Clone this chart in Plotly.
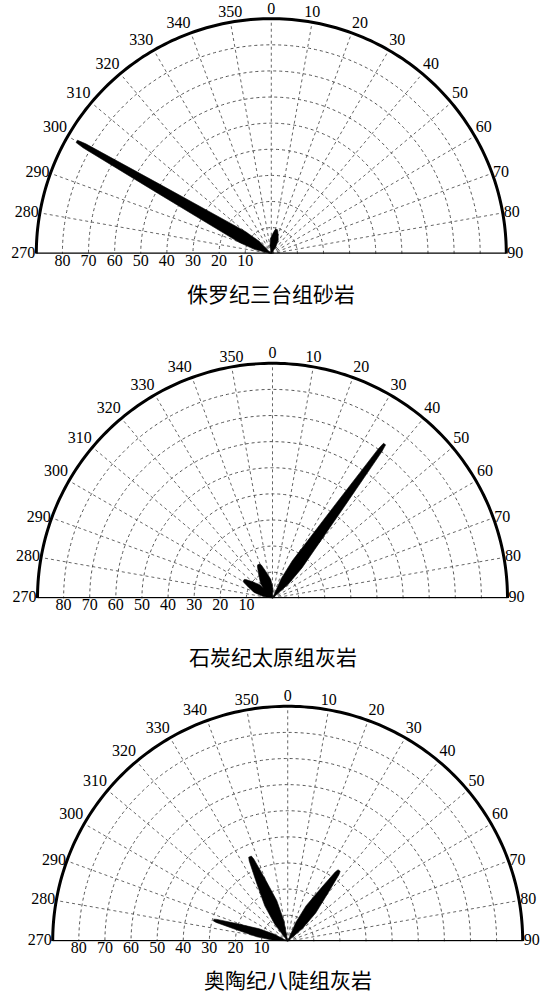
import numpy as np
import plotly.graph_objects as go

# ---------------- data ----------------
titles = ["侏罗纪三台组砂岩", "石炭纪太原组灰岩", "奥陶纪八陡组灰岩"]

# angular ticks (azimuth, degrees); left half expressed as negative angles
angle_ticks = [-90, -80, -70, -60, -50, -40, -30, -20, -10, 0, 10, 20, 30, 40, 50, 60, 70, 80, 90]
angle_labels = ["270", "280", "290", "300", "310", "320", "330", "340", "350",
                "0", "10", "20", "30", "40", "50", "60", "70", "80", "90"]
radial_ticks = [10, 20, 30, 40, 50, 60, 70, 80]
radial_labels = [str(v) for v in radial_ticks]
r_max = 90

# petals: direction (deg, clockwise from north), length (radial units)
dir_1 = [300, 12]
len_1 = [86, 9.5]
wid_1 = [4.8, 3.0]
peak_1 = [0.15, 0.6]

dir_2 = [36, 338, 302]
len_2 = [73, 14, 13]
wid_2 = [4.6, 4.2, 3.6]
peak_2 = [0.22, 0.5, 0.55]

dir_3 = [336, 36, 286]
len_3 = [35.5, 33.5, 29.5]
wid_3 = [5.0, 4.6, 3.2]
peak_3 = [0.45, 0.45, 0.4]

petal_sets = [(dir_1, len_1, wid_1, peak_1),
              (dir_2, len_2, wid_2, peak_2),
              (dir_3, len_3, wid_3, peak_3)]

# ---------------- layout geometry (pixels) ----------------
W, H = 542, 996
centers = [(271.3, 253.7), (272.5, 598.3), (287.7, 941.3)]
R_px = 235                 # pixel radius of the rim (r = r_max)
r_view = 96                # radial range kept a little wider so labels fit
R_view_px = R_px * r_view / r_max
title_y = [293, 656, 979]
NUM_FONT = dict(family="Liberation Serif", size=16, color="black")
GRID = dict(color="#555555", width=0.9, dash="dot")


def petal_polygon(d, L, w, pk):
    ts = np.array([0, pk * 0.5, pk, (pk + 1) / 2, 0.96, 1.0])
    hf = np.array([0, 0.75, 1.0, 0.7, 0.38, 0.22]) * w / 2
    a = ts * L
    r_left = np.sqrt(a ** 2 + hf ** 2)
    th_off = np.degrees(np.arctan2(hf, np.maximum(a, 1e-9)))
    r = np.concatenate([r_left, r_left[::-1]])
    th = np.concatenate([d - th_off, (d + th_off)[::-1]])
    return r, th


def label_pos(a):
    if abs(a) <= 10:
        return "top center"
    if a >= 70:
        return "middle right"
    if a <= -70:
        return "middle left"
    return "top right" if a > 0 else "top left"


fig = go.Figure()
layout_polars = {}
for i, (dirs, lens, wids, peaks) in enumerate(petal_sets):
    pname = "polar" if i == 0 else f"polar{i+1}"
    sub = pname
    cx, cy = centers[i]
    layout_polars[pname] = dict(
        domain=dict(x=[(cx - R_view_px) / W, (cx + R_view_px) / W],
                    y=[(H - cy) / H, (H - cy + R_view_px) / H]),
        sector=[0, 180],
        bgcolor="rgba(0,0,0,0)",
        angularaxis=dict(
            rotation=90, direction="clockwise",
            showticklabels=False, showline=False, showgrid=False, ticks="",
        ),
        radialaxis=dict(
            range=[0, r_view], angle=180,
            tickmode="array", tickvals=radial_ticks,
            showticklabels=False, showline=False, showgrid=True,
            gridcolor=GRID["color"], griddash=GRID["dash"],
            gridwidth=GRID["width"], ticks="",
        ),
    )
    # spokes every 10 degrees, from the centre to the rim
    sp_r, sp_t = [], []
    for a in angle_ticks[1:-1]:
        sp_r += [0, r_max, None]
        sp_t += [a, a, None]
    fig.add_trace(go.Scatterpolar(
        r=sp_r, theta=sp_t, mode="lines", line=GRID, connectgaps=False,
        subplot=sub, showlegend=False, hoverinfo="skip"))
    # petals
    for d, L, w, pk in zip(dirs, lens, wids, peaks):
        r, th = petal_polygon(d, L, w, pk)
        fig.add_trace(go.Scatterpolar(
            r=r, theta=th, mode="lines", fill="toself",
            fillcolor="black", line=dict(color="black", width=0.6),
            subplot=sub, showlegend=False, hoverinfo="skip"))
    # rim (outer semicircle) and diameter baseline
    rim_t = np.linspace(-90, 90, 181)
    fig.add_trace(go.Scatterpolar(
        r=np.full_like(rim_t, r_max), theta=rim_t, mode="lines",
        line=dict(color="black", width=3), cliponaxis=False,
        subplot=sub, showlegend=False, hoverinfo="skip"))
    fig.add_trace(go.Scatterpolar(
        r=[r_max, 0, r_max], theta=[-90, 0, 90], mode="lines",
        line=dict(color="black", width=2.5), cliponaxis=False,
        subplot=sub, showlegend=False, hoverinfo="skip"))
    # radial scale labels below the left half of the baseline
    fig.add_trace(go.Scatterpolar(
        r=radial_ticks, theta=[-90] * len(radial_ticks), mode="text",
        text=radial_labels, textposition="bottom center",
        textfont=NUM_FONT,
        cliponaxis=False, subplot=sub, showlegend=False, hoverinfo="skip"))
    # azimuth labels just outside the rim
    fig.add_trace(go.Scatterpolar(
        r=[r_max + 0.4] * len(angle_ticks), theta=angle_ticks, mode="text",
        text=angle_labels, textposition=[label_pos(a) for a in angle_ticks],
        textfont=NUM_FONT,
        cliponaxis=False, subplot=sub, showlegend=False, hoverinfo="skip"))

annotations = []
for i, t in enumerate(titles):
    annotations.append(dict(
        text=t, x=centers[i][0] / W, y=(H - title_y[i]) / H,
        xref="paper", yref="paper", showarrow=False,
        xanchor="center", yanchor="middle",
        font=dict(family="Noto Sans CJK SC", size=21, color="black")))

fig.update_layout(width=W, height=H, margin=dict(l=0, r=0, t=0, b=0),
                  paper_bgcolor="white", plot_bgcolor="white",
                  annotations=annotations, showlegend=False, **layout_polars)

# page body has a default 8px margin; remove it so the figure fills the window
fig.write_html("out.html", config={"displayModeBar": False},
               post_script="document.body.style.margin='0';document.body.style.overflow='hidden';")
